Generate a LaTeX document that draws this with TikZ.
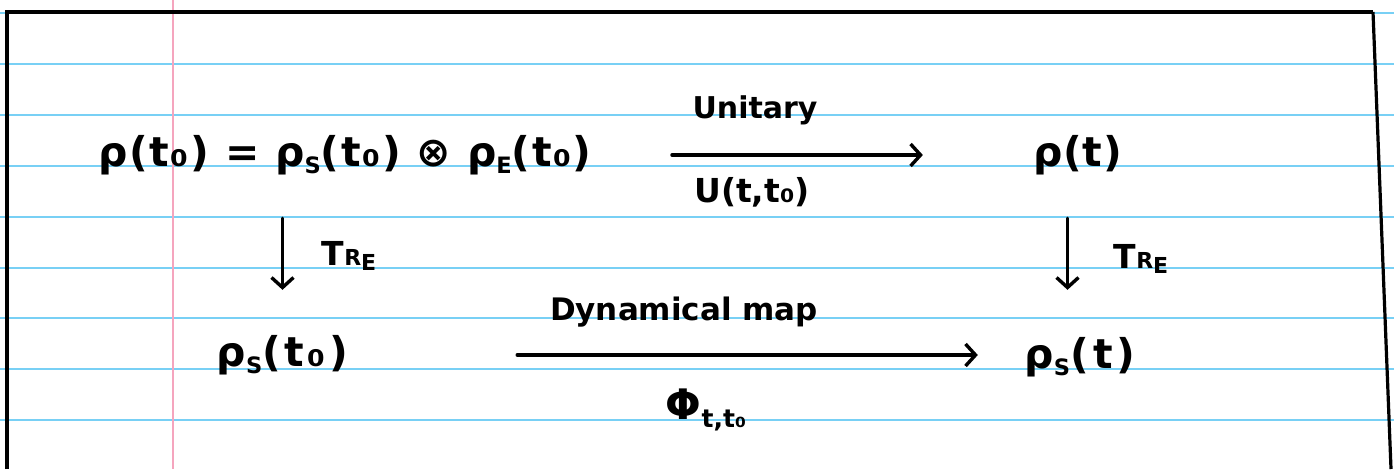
\documentclass[tikz,border=0pt]{standalone}
\usepackage{fontspec}
\setmainfont{DejaVu Sans}
\usetikzlibrary{arrows.meta}
\definecolor{ruled}{RGB}{120,208,245}
\definecolor{marginpink}{RGB}{245,165,190}
\newcommand{\subtx}[1]{\raisebox{-0.18em}{\fontsize{0.55em}{0.6em}\selectfont #1}}
\newcommand{\trace}{T{\fontsize{22}{24}\selectfont R\raisebox{-0.2em}{E}}}
\tikzset{
  hand/.style={font=\fontsize{41}{44}\selectfont\bfseries, inner sep=0pt, minimum height=44pt},
  lab/.style={font=\fontsize{30}{34}\selectfont\bfseries, inner sep=0pt},
  pen/.style={line width=3.4pt, line cap=round, line join=round,
    -{Straight Barb[length=10pt,width=22pt,line width=3.4pt]}},
  rule/.style={ruled, line width=1.8pt},
  frame/.style={line width=4pt, line join=miter}
}
\begin{document}
\begin{tikzpicture}[x=1pt,y=-1pt]
\useasboundingbox (0,0) rectangle (1394,469);
\fill[white] (0,0) rectangle (1394,469);
% ruled lines
\foreach \yy in {13,64,115,166,217,268,318,369,420}
  \draw[rule] (0,\yy) -- (1394,\yy);
% margin line
\draw[marginpink, line width=2pt] (172.5,0) -- (172.5,469);
% frame
\draw[frame] (7,469) -- (7,12) -- (1373,12);
\draw[line width=3.2pt] (1373,12) -- (1391,469);
% nodes
\node[hand, minimum width=490pt] (a) at (345,155) {\addfontfeature{LetterSpace=4}ρ(t₀) = ρ\subtx{S}(t₀) ⊗ ρ\subtx{E}(t₀)};
\node[hand, minimum width=85pt] (b) at (1077.5,155) {\addfontfeature{LetterSpace=2}ρ(t)};
\node[hand, minimum width=135pt] (c) at (282.5,355) {\addfontfeature{LetterSpace=9}ρ\subtx{S}(t₀)};
\node[hand, minimum width=120pt] (d) at (1080,357) {\addfontfeature{LetterSpace=10}ρ\subtx{S}(t)};
% labels
\node[lab] (u1) at (755,110) {Unitary};
\node[lab, font=\fontsize{33}{36}\selectfont\bfseries] (u2) at (752,192) {U(t,t₀)};
\node[lab, font=\fontsize{33}{36}\selectfont\bfseries] (tr1) at (349,256) {\trace};
\node[lab, font=\fontsize{33}{36}\selectfont\bfseries] (tr2) at (1141,259) {\trace};
\node[lab, font=\fontsize{31}{34}\selectfont\bfseries] (dm) at (684,312) {Dynamical map};
\node[lab, font=\fontsize{42}{44}\selectfont\bfseries] (phi) at (706,410) {Φ\raisebox{-0.2em}{\fontsize{25}{26}\selectfont t,t₀}};
% connectors
\draw[pen, shorten <=80pt, shorten >=110pt] (a.east) -- (b.west);
\draw[pen, shorten <=167pt, shorten >=42pt] (c.east) -- (c.east -| d.west);
\draw[pen, shorten <=41pt, shorten >=43pt] (a.south -| c.north) -- (c.north);
\draw[pen, shorten <=41pt, shorten >=43pt] ([xshift=-10pt]b.south) -- ([xshift=-10pt]b.south |- c.north);
\end{tikzpicture}
\end{document}
